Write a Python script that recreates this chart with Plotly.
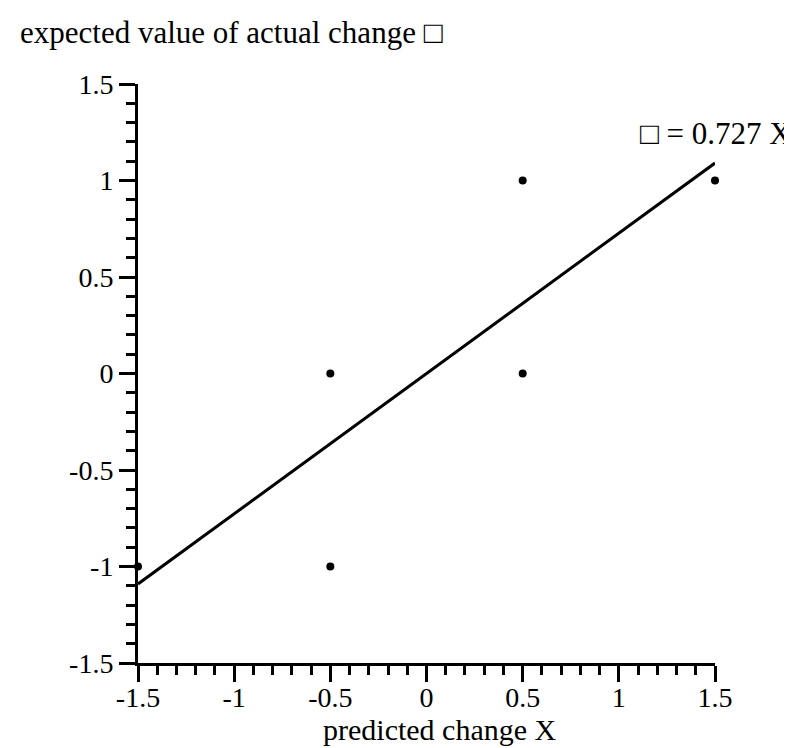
import plotly.graph_objects as go

# data
point_x = [-1.5, -0.5, -0.5, 0.5, 0.5, 1.5]
point_y = [-1.0, 0.0, -1.0, 1.0, 0.0, 1.0]
slope = 0.727
line_x = [-1.5, 1.5]
line_y = [slope * v for v in line_x]
tick_vals = [-1.5, -1, -0.5, 0, 0.5, 1, 1.5]
tick_text = ["-1.5", "-1", "-0.5", "0", "0.5", "1", "1.5"]

FONT = "Liberation Serif, Times New Roman, serif"
FS_TICK = 28
FS_TEXT = 31

L, R, T, B = 130, 85, 76, 93
W, H = 792, 748
PW, PH = W - L - R, H - T - B


def px_x(p):
    return (p - L) / PW


def px_y(p):
    return (H - B - p) / PH


fig = go.Figure()
fig.add_trace(go.Scatter(x=line_x, y=line_y, mode="lines",
                         line=dict(color="black", width=3), cliponaxis=False,
                         showlegend=False))
fig.add_trace(go.Scatter(x=point_x, y=point_y, mode="markers",
                         marker=dict(color="black", size=8), cliponaxis=False,
                         showlegend=False))

axis_common = dict(
    range=[-1.5, 1.5], tickvals=tick_vals, ticktext=tick_text,
    showgrid=False, zeroline=False, showline=True, linecolor="black", linewidth=3,
    ticks="outside", ticklen=16, tickwidth=3, tickcolor="black",
    tickfont=dict(family=FONT, size=FS_TICK, color="black"),
    minor=dict(dtick=0.1, ticks="outside", ticklen=9, tickwidth=2.5, tickcolor="black", showgrid=False),
)

fig.update_xaxes(**axis_common, ticklabelstandoff=-9)
fig.update_yaxes(**axis_common, ticklabelstandoff=0)

fig.add_annotation(text="predicted change X", xref="paper", yref="paper",
                   x=px_x(432), y=px_y(721), xanchor="center", yanchor="middle",
                   showarrow=False, font=dict(family=FONT, size=30, color="black"))
fig.add_annotation(text="expected value of actual change \u25a1", xref="paper", yref="paper",
                   x=px_x(10), y=px_y(24), xanchor="left", yanchor="middle",
                   showarrow=False, font=dict(family=FONT, size=FS_TEXT, color="black"))
fig.add_annotation(text="\u25a1 = 0.727 X", xref="paper", yref="paper",
                   x=px_x(786), y=px_y(125), xanchor="right", yanchor="middle",
                   showarrow=False, font=dict(family=FONT, size=FS_TEXT, color="black"))

fig.update_layout(width=W, height=H, plot_bgcolor="white", paper_bgcolor="white",
                  margin=dict(l=L, r=R, t=T, b=B))

fig.write_html("out.html")
